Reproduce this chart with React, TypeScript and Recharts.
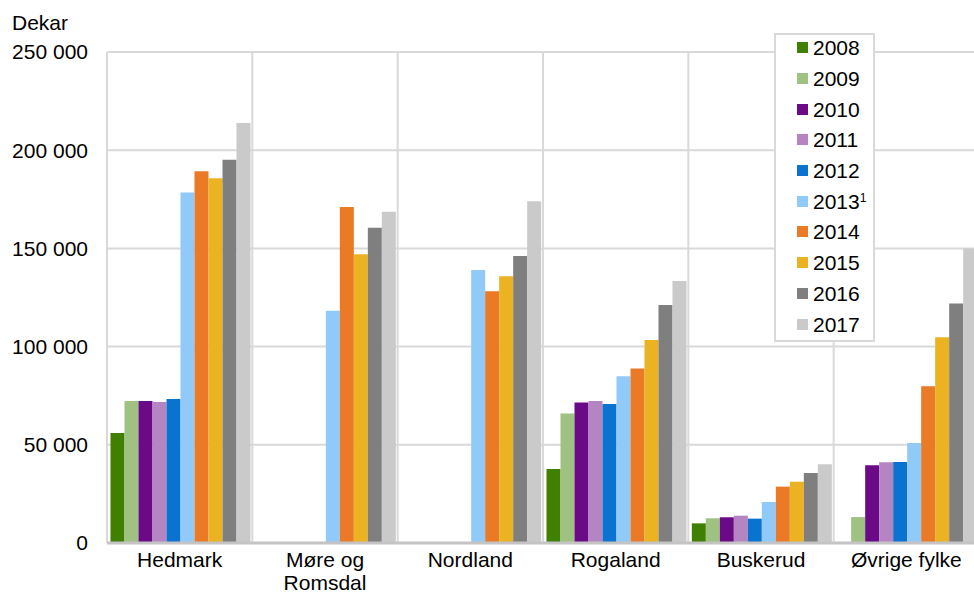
import React from "react";
import {
  BarChart,
  Bar,
  XAxis,
  YAxis,
  CartesianGrid,
  Legend,
} from "recharts";

const REGIONS = [
  "Hedmark",
  "Møre og\nRomsdal",
  "Nordland",
  "Rogaland",
  "Buskerud",
  "Øvrige fylke",
];

const YEARS = ["2008", "2009", "2010", "2011", "2012", "2013", "2014", "2015", "2016", "2017"];

const COLORS = [
  "#3f8000", "#9fc283", "#6a0a86", "#b484c3", "#0a73d0",
  "#90caf9", "#eb7a27", "#ebb322", "#7f7f7f", "#cacaca",
];

// footnote marks in legend
const FOOTNOTES: Record<string, string> = { "2013": "1" };

// one array per year, values per region (dekar)
const Y2008 = [56000, null, null, 37700, 10000, null];
const Y2009 = [72300, null, null, 66000, 12600, 13200];
const Y2010 = [72300, null, null, 71600, 13100, 39600];
const Y2011 = [71800, null, null, 72300, 13900, 41100];
const Y2012 = [73300, null, null, 70800, 12400, 41200];
const Y2013 = [178400, 118300, 139000, 84900, 20900, 50900];
const Y2014 = [189300, 171100, 128200, 88900, 28700, 79800];
const Y2015 = [185700, 147000, 135800, 103400, 31200, 104700];
const Y2016 = [195200, 160500, 146100, 121200, 35600, 122000];
const Y2017 = [213800, 168700, 174000, 133400, 40100, 150000];

const SERIES = [Y2008, Y2009, Y2010, Y2011, Y2012, Y2013, Y2014, Y2015, Y2016, Y2017];

const Y_TICKS = [0, 50000, 100000, 150000, 200000, 250000];

const data = REGIONS.map((region, i) => {
  const row: Record<string, string | number | null> = { region };
  YEARS.forEach((y, k) => {
    row[y] = SERIES[k][i];
  });
  return row;
});

const FONT = "'Liberation Sans', Arial, sans-serif";

const fmt = (v: number) => String(v).replace(/\B(?=(\d{3})+(?!\d))/g, " ");

const RegionTick = (props: any) => {
  const { x, y, payload } = props;
  const lines = String(payload.value).split("\n");
  return (
    <text x={x} y={y} textAnchor="middle" fill="#000" fontSize={21} fontFamily={FONT}>
      {lines.map((l, i) => (
        <tspan key={i} x={x} dy={i === 0 ? 16 : 23}>
          {l}
        </tspan>
      ))}
    </text>
  );
};

const renderLegend = (props: any) => {
  const items = props.payload || [];
  return (
    <div
      style={{
        width: 97,
        height: 305,
        border: "2px solid #d9d9d9",
        background: "#fff",
        boxSizing: "content-box",
      }}
    >
      <div style={{ marginTop: -2.5 }}>
        {items.map((it: any) => (
          <div
            key={it.value}
            style={{
              display: "flex",
              alignItems: "center",
              height: 30.7,
              marginLeft: 21,
              fontFamily: FONT,
              fontSize: 21,
              color: "#000",
              lineHeight: "21px",
            }}
          >
            <span
              style={{
                display: "inline-block",
                width: 11,
                height: 11,
                background: it.color,
                marginRight: 5,
              }}
            />
            <span>{it.value}</span>
            {FOOTNOTES[it.value] && (
              <span style={{ fontSize: 12, alignSelf: "flex-start", marginTop: 2 }}>
                {FOOTNOTES[it.value]}
              </span>
            )}
          </div>
        ))}
      </div>
    </div>
  );
};

export default function App() {
  return (
    <div
      style={{
        position: "fixed",
        left: 0,
        top: 0,
        width: 974,
        height: 592,
        overflow: "hidden",
        background: "#fff",
      }}
    >
      <div
        style={{
          position: "absolute",
          left: 12,
          top: 11,
          fontFamily: FONT,
          fontSize: 21,
          color: "#000",
        }}
      >
        Dekar
      </div>
      <BarChart
        width={990}
        height={592}
        data={data}
        margin={{ top: 52, right: 11, left: 0, bottom: 0 }}
        barCategoryGap={3.5}
        barGap={0}
      >
        <CartesianGrid
          stroke="#d9d9d9"
          strokeWidth={2}
          verticalCoordinatesGenerator={({ offset }: any) =>
            REGIONS.map((_, i) => offset.left + (i * offset.width) / REGIONS.length).concat(
              offset.left + offset.width
            )
          }
        />
        <XAxis
          dataKey="region"
          height={49}
          tickLine={false}
          axisLine={{ stroke: "#c4c4c4", strokeWidth: 3 }}
          tick={<RegionTick />}
          interval={0}
        />
        <YAxis
          width={107}
          domain={[0, 250000]}
          ticks={Y_TICKS}
          tickFormatter={fmt}
          axisLine={false}
          tickLine={false}
          tickMargin={13}
          tick={{ fill: "#000", fontSize: 21, fontFamily: FONT }}
        />
        <Legend
          layout="horizontal"
          verticalAlign="middle"
          align="center"
          content={renderLegend}
          wrapperStyle={{ left: 774, top: 33, width: 101, height: 309 }}
        />
        {YEARS.map((y, k) => (
          <Bar key={y} dataKey={y} fill={COLORS[k]} isAnimationActive={false} />
        ))}
      </BarChart>
    </div>
  );
}
